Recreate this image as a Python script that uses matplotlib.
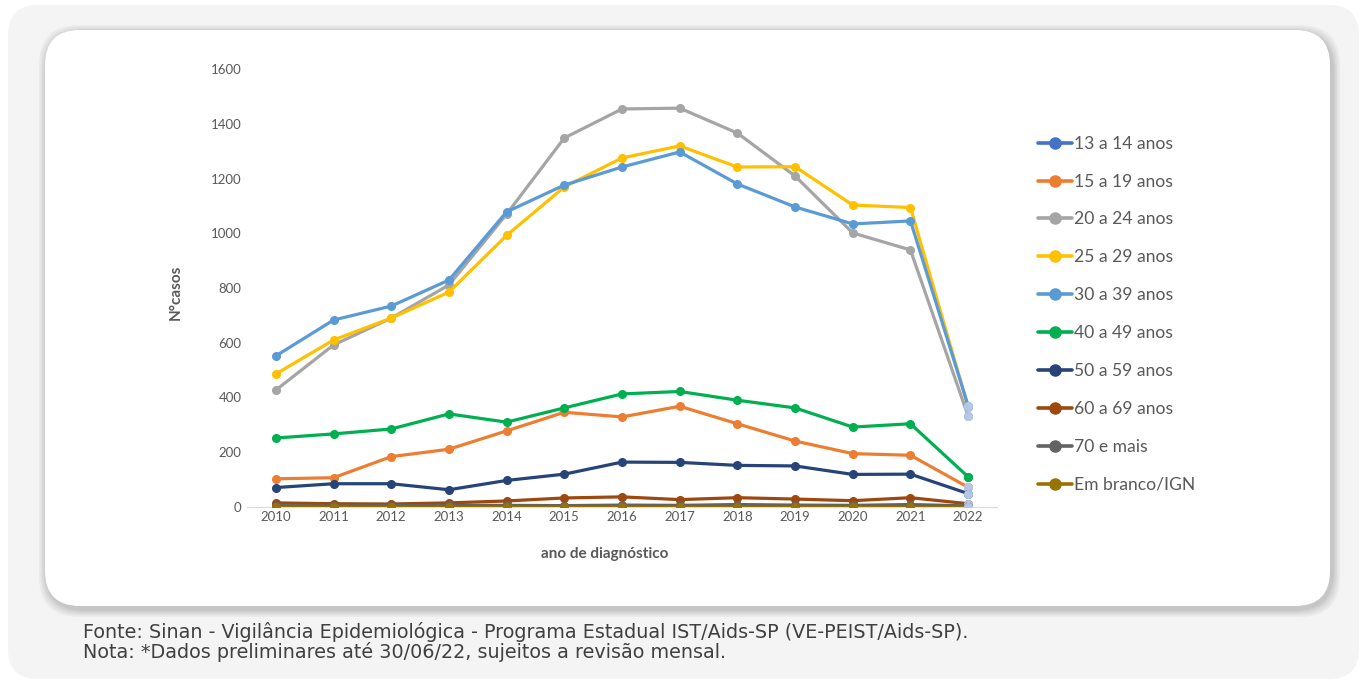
from matplotlib import pyplot as plt
from matplotlib.patches import FancyBboxPatch

years = list(range(2010, 2023))

series_names = ['13 a 14 anos', '15 a 19 anos', '20 a 24 anos', '25 a 29 anos',
                '30 a 39 anos', '40 a 49 anos', '50 a 59 anos', '60 a 69 anos',
                '70 e mais', 'Em branco/IGN']
colors = ['#4472C4', '#ED7D31', '#A5A5A5', '#FFC000', '#5B9BD5',
          '#00B050', '#264478', '#9E480E', '#636363', '#997300']

a13_14 = [2, 1, 2, 1, 1, 2, 1, 1, 1, 2, 1, 1, 0]
a15_19 = [103, 107, 184, 211, 278, 346, 329, 368, 304, 241, 195, 189, 72]
a20_24 = [427, 592, 690, 811, 1070, 1348, 1454, 1457, 1366, 1209, 1001, 939, 332]
a25_29 = [486, 610, 690, 785, 992, 1169, 1275, 1319, 1242, 1243, 1103, 1094, 365]
a30_39 = [552, 683, 734, 829, 1078, 1176, 1242, 1297, 1180, 1096, 1034, 1045, 370]
a40_49 = [252, 267, 285, 340, 310, 362, 413, 422, 390, 362, 292, 304, 110]
a50_59 = [71, 85, 85, 63, 97, 120, 164, 163, 152, 150, 119, 120, 49]
a60_69 = [15, 12, 11, 15, 22, 33, 37, 27, 34, 29, 23, 34, 12]
a70 = [5, 4, 5, 6, 6, 5, 7, 6, 9, 7, 6, 9, 4]
ign = [0, 0, 0, 0, 0, 0, 0, 0, 0, 0, 0, 0, 0]

values = [a13_14, a15_19, a20_24, a25_29, a30_39, a40_49, a50_59, a60_69, a70, ign]
pale = '#B4C7E7'

fig = plt.figure(figsize=(13.67, 6.84), dpi=100)
fig.patch.set_facecolor('white')
inch = fig.dpi_scale_trans

# outer grey panel
fig.patches.append(FancyBboxPatch((0.08, 0.05), 13.51, 6.74,
                                  boxstyle='round,pad=0,rounding_size=0.3',
                                  transform=inch, fc='#F4F4F4', ec='none', zorder=0))
# shadow of the white card
for i, a in enumerate([0.05, 0.05, 0.06, 0.07, 0.08]):
    d = 0.08 - i * 0.015
    fig.patches.append(FancyBboxPatch((0.45 - d + 0.02, 0.78 - d - 0.03), 12.85 + 2 * d, 5.76 + 2 * d,
                                      boxstyle='round,pad=0,rounding_size=0.4',
                                      transform=inch, fc='#555555', ec='none', alpha=a, zorder=0))
fig.patches.append(FancyBboxPatch((0.45, 0.78), 12.85, 5.76,
                                  boxstyle='round,pad=0,rounding_size=0.35',
                                  transform=inch, fc='white', ec='none', zorder=0))

ax = fig.add_axes([247 / 1367, 1 - 507 / 684, 750 / 1367, 438 / 684])
ax.set_zorder(2)
ax.set_facecolor('none')

for name, c, v in zip(series_names, colors, values):
    ax.plot(years, v, color=c, lw=2.3, marker='o', ms=5.5, label=name,
            solid_capstyle='round')
    last_c = c if name == '40 a 49 anos' else pale
    ax.plot(years[-1:], v[-1:], ls='none', marker='o', ms=5.5, color=last_c)

ax.set_xlim(2009.5, 2022.5)
ax.set_ylim(0, 1600)
ax.set_xticks(years)
ax.set_yticks(range(0, 1601, 200))
for s in ['top', 'right', 'left']:
    ax.spines[s].set_visible(False)
ax.spines['bottom'].set_color('#D9D9D9')
ax.spines['bottom'].set_zorder(0)
ax.tick_params(length=0, labelsize=9.5, labelcolor='#595959', pad=3)
ax.tick_params(axis='y', pad=4)
for lab in ax.get_xticklabels() + ax.get_yticklabels():
    lab.set_fontfamily('Lato')

ax.set_xlabel('ano de diagnóstico', fontsize=11, fontweight='bold', color='#595959',
              family='Lato', labelpad=17)
ax.xaxis.label.set_x(0.477)
ax.set_ylabel('N°casos', fontsize=11, fontweight='bold', color='#595959',
              family='Lato', labelpad=20)
ax.yaxis.label.set_y(0.49)

leg = fig.legend(*ax.get_legend_handles_labels(), loc='upper left',
                 bbox_to_anchor=(1022 / 1367, 1 - 120 / 684), frameon=False,
                 prop={'family': 'Lato', 'size': 12.6}, labelcolor='#595959',
                 handlelength=1.95, handletextpad=0.15, labelspacing=1.25)
for h in leg.legend_handles:
    h.set_markersize(8)
    h.set_linewidth(2.6)
leg.set_zorder(3)

fig.text(83 / 1367, 1 - 632 / 684,
         'Fonte: Sinan - Vigilância Epidemiológica - Programa Estadual IST/Aids-SP (VE-PEIST/Aids-SP).',
         fontsize=13.8, color='#404040', va='center')
fig.text(83 / 1367, 1 - 652 / 684,
         'Nota: *Dados preliminares até 30/06/22, sujeitos a revisão mensal.',
         fontsize=13.8, color='#404040', va='center')

fig.savefig('out.png', dpi=100)
